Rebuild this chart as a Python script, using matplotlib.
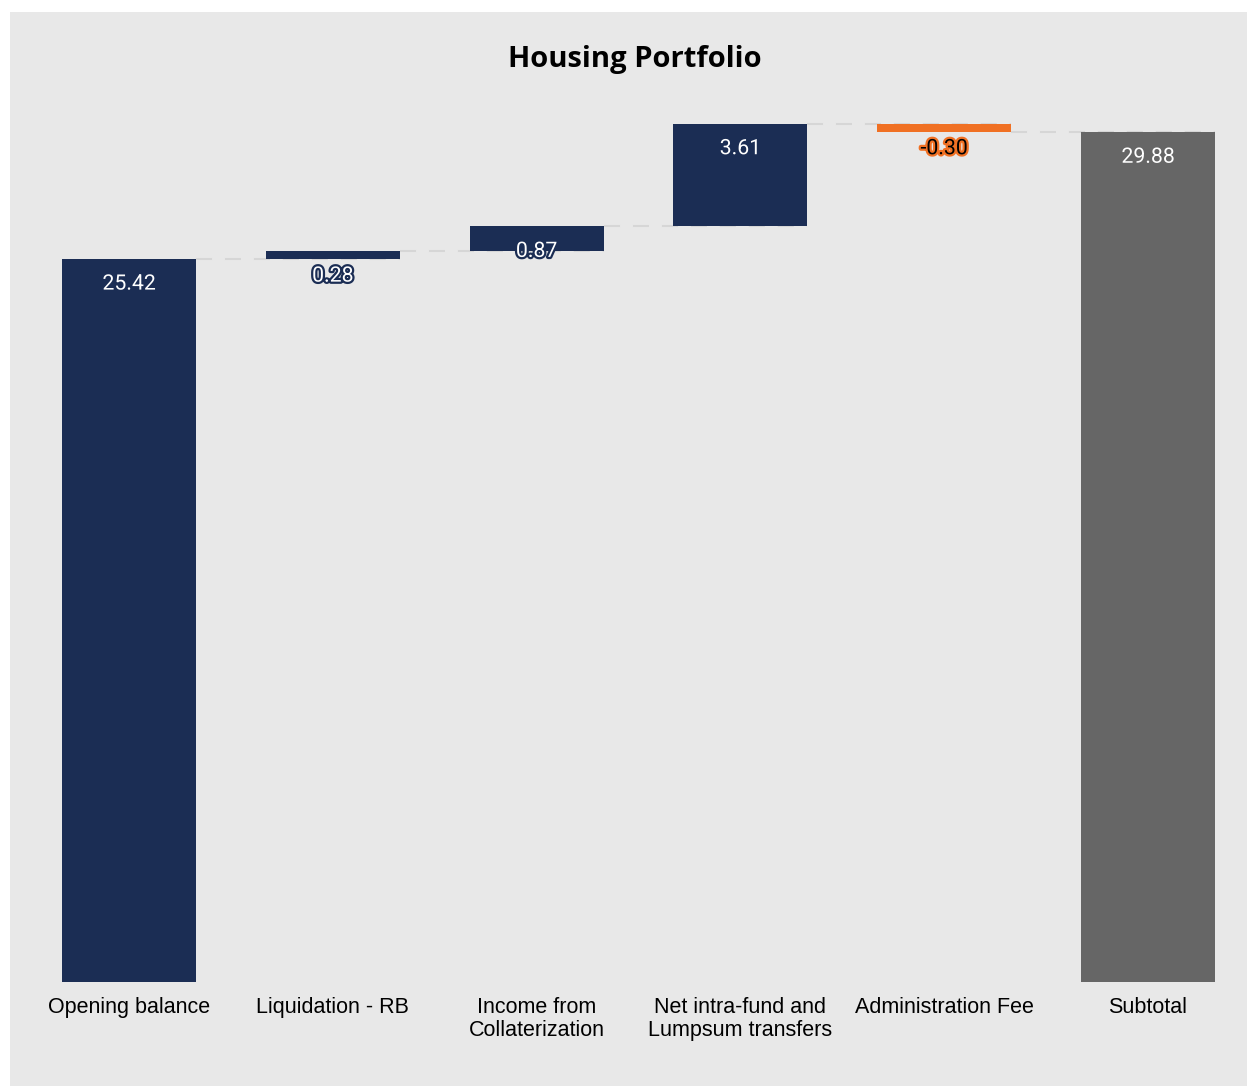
# Imports
import matplotlib.pyplot as plt
import matplotlib.patheffects as pe
from matplotlib.patches import Rectangle

# Data
categories = ['Opening balance', 'Liquidation - RB', 'Income from\nCollaterization',
              'Net intra-fund and\nLumpsum transfers', 'Administration Fee', 'Subtotal']
changes = [25.42, 0.28, 0.87, 3.61, -0.30]
subtotal = 29.88
kinds = ['total', 'up', 'up', 'up', 'down', 'total']

# Colours
NAVY = '#1b2d54'
ORANGE = '#f07023'
GREY = '#666666'
BG = '#e8e8e8'
colors = {'total': NAVY, 'up': NAVY, 'down': ORANGE}

# Build waterfall bottoms / heights
bottoms, heights, bar_colors = [], [], []
running = 0.0
for i, v in enumerate(changes):
    if i == 0:
        bottoms.append(0.0)
    else:
        bottoms.append(running if v >= 0 else running + v)
    heights.append(abs(v))
    bar_colors.append(colors[kinds[i]])
    running += v
bottoms.append(0.0)
heights.append(subtotal)
bar_colors.append(GREY)
values = changes + [subtotal]

# Figure
W, H = 1247, 1086
fig = plt.figure(figsize=(W / 100, H / 100), dpi=100)
fig.patch.set_facecolor('white')
fig.patches.append(Rectangle((10 / W, 0), 1, 1 - 12 / H, transform=fig.transFigure,
                             facecolor=BG, edgecolor='none', zorder=-10))

left, right = 37.3, 1239.7
ax = fig.add_axes([left / W, 104 / H, (right - left) / W, 881.6 / H])
ax.set_facecolor(BG)
ax.patch.set_alpha(0)

x = list(range(len(categories)))
width = 0.657
ax.bar(x, heights, bottom=bottoms, width=width, color=bar_colors, zorder=3)

## Dashed connectors between bars
level = 0.0
for i, v in enumerate(changes):
    level += v
    ax.plot([i + width / 2, i + 1 + width / 2], [level, level], color='#d6d6d6', lw=1.5,
            linestyle=(0, (7.7, 6.2)), zorder=2, solid_capstyle='butt')

## Value labels
for i, v in enumerate(values):
    top = bottoms[i] + heights[i]
    txt_color = 'black' if kinds[i] == 'down' else 'white'
    ax.annotate(f'{v:.2f}', xy=(i, top), xytext=(0, -18), textcoords='offset points',
                ha='center', va='center', fontsize=15.3, family='Roboto', color=txt_color,
                zorder=5,
                path_effects=[pe.withStroke(linewidth=3.2, foreground=bar_colors[i])])

## Axes styling
ax.set_xlim(-0.45, 5.45)
ax.set_ylim(0, 31)
ax.set_xticks(x)
ax.set_xticklabels(categories, fontsize=15.5, family='Liberation Sans', linespacing=1.08)
ax.tick_params(axis='x', length=0, pad=11)
ax.set_yticks([])
for s in ax.spines.values():
    s.set_visible(False)

## Title
fig.text(635 / W, 1 - 59 / H, 'Housing Portfolio', ha='center', va='center',
         fontsize=21, fontweight='bold', family='Open Sans')

fig.savefig('out.png', dpi=100, facecolor=fig.get_facecolor())
